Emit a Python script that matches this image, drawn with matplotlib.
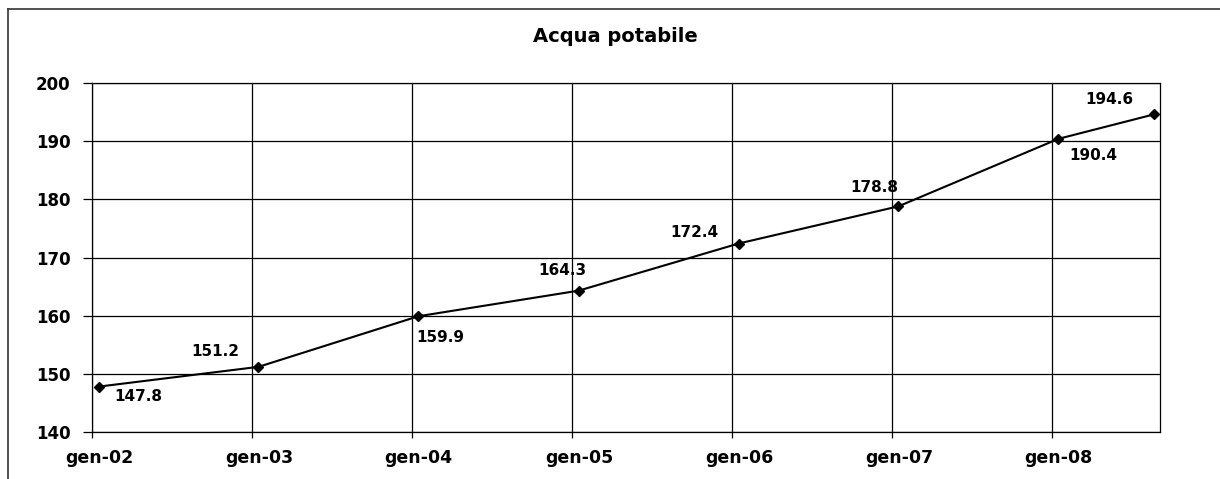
import datetime as dt
import matplotlib
matplotlib.use('Agg')
import matplotlib.pyplot as plt
from matplotlib.lines import Line2D
from matplotlib.transforms import ScaledTranslation

#--------------------------------------------
# data
title = 'Acqua potabile'
dates = [dt.date(2002, 1, 16), dt.date(2003, 1, 16), dt.date(2004, 1, 16),
         dt.date(2005, 1, 16), dt.date(2006, 1, 16), dt.date(2007, 1, 16),
         dt.date(2008, 1, 16), dt.date(2008, 8, 21)]
values = [147.8, 151.2, 159.9, 164.3, 172.4, 178.8, 190.4, 194.6]
tick_dates = [dt.date(y, 1, 1) for y in range(2002, 2009)]
tick_labels = ['gen-02', 'gen-03', 'gen-04', 'gen-05', 'gen-06', 'gen-07', 'gen-08']
yticks = [140, 150, 160, 170, 180, 190, 200]
# label offsets in pixels (dx, dy) and horizontal alignment
label_pos = [(16, -10, 'left'), (-19, 15, 'right'), (-2, -21, 'left'),
             (-16, 20, 'center'), (-44, 11, 'center'), (-24, 19, 'center'),
             (35, -17, 'center'), (-44, 15, 'center')]
#--------------------------------------------

plt.rcParams['font.family'] = ['DejaVu Sans']

fig = plt.figure(figsize=(12.2, 4.79), dpi=100)
W, H = 1220, 479
ax = fig.add_axes([92 / W, 1 - 432 / H, (1160 - 92) / W, (432 - 83) / H])

ax.plot(dates, values, color='black', lw=1.5, marker='D', ms=5, zorder=3)

for d, v, (dx, dy, ha) in zip(dates, values, label_pos):
    ax.annotate(f'{v:.1f}', (d, v), xytext=(dx, dy), textcoords='offset pixels',
                ha=ha, va='center', fontsize=11, fontweight='bold')

ax.set_xlim(dt.date(2002, 1, 1), dt.date(2008, 9, 4))
ax.set_ylim(140, 200)
ax.set_xticks(tick_dates)
ax.set_xticklabels(tick_labels)
ax.set_yticks(yticks)
ax.grid(True, color='black', lw=0.9)
ax.set_axisbelow(True)

for s in ax.spines.values():
    s.set_color('black')
    s.set_linewidth(0.9)

ax.tick_params(axis='y', length=6.5, width=0.9, pad=9, labelsize=12)
ax.tick_params(axis='x', length=4.5, width=0.9, pad=8, labelsize=12.5)
for lab in ax.get_yticklabels() + ax.get_xticklabels():
    lab.set_fontweight('bold')
off = ScaledTranslation(7 / 100, 0, fig.dpi_scale_trans)
for lab in ax.get_xticklabels():
    lab.set_transform(lab.get_transform() + off)

fig.text(615 / W, 1 - 37 / H, title, ha='center', va='center',
         fontsize=14, fontweight='bold')

# outer chart frame
fig.add_artist(Line2D([8 / W, 8 / W], [0, 1 - 9 / H], color='#333333', lw=1.2))
fig.add_artist(Line2D([8 / W, 1], [1 - 9 / H, 1 - 9 / H], color='#333333', lw=1.2))

fig.savefig('out.png', dpi=100)
